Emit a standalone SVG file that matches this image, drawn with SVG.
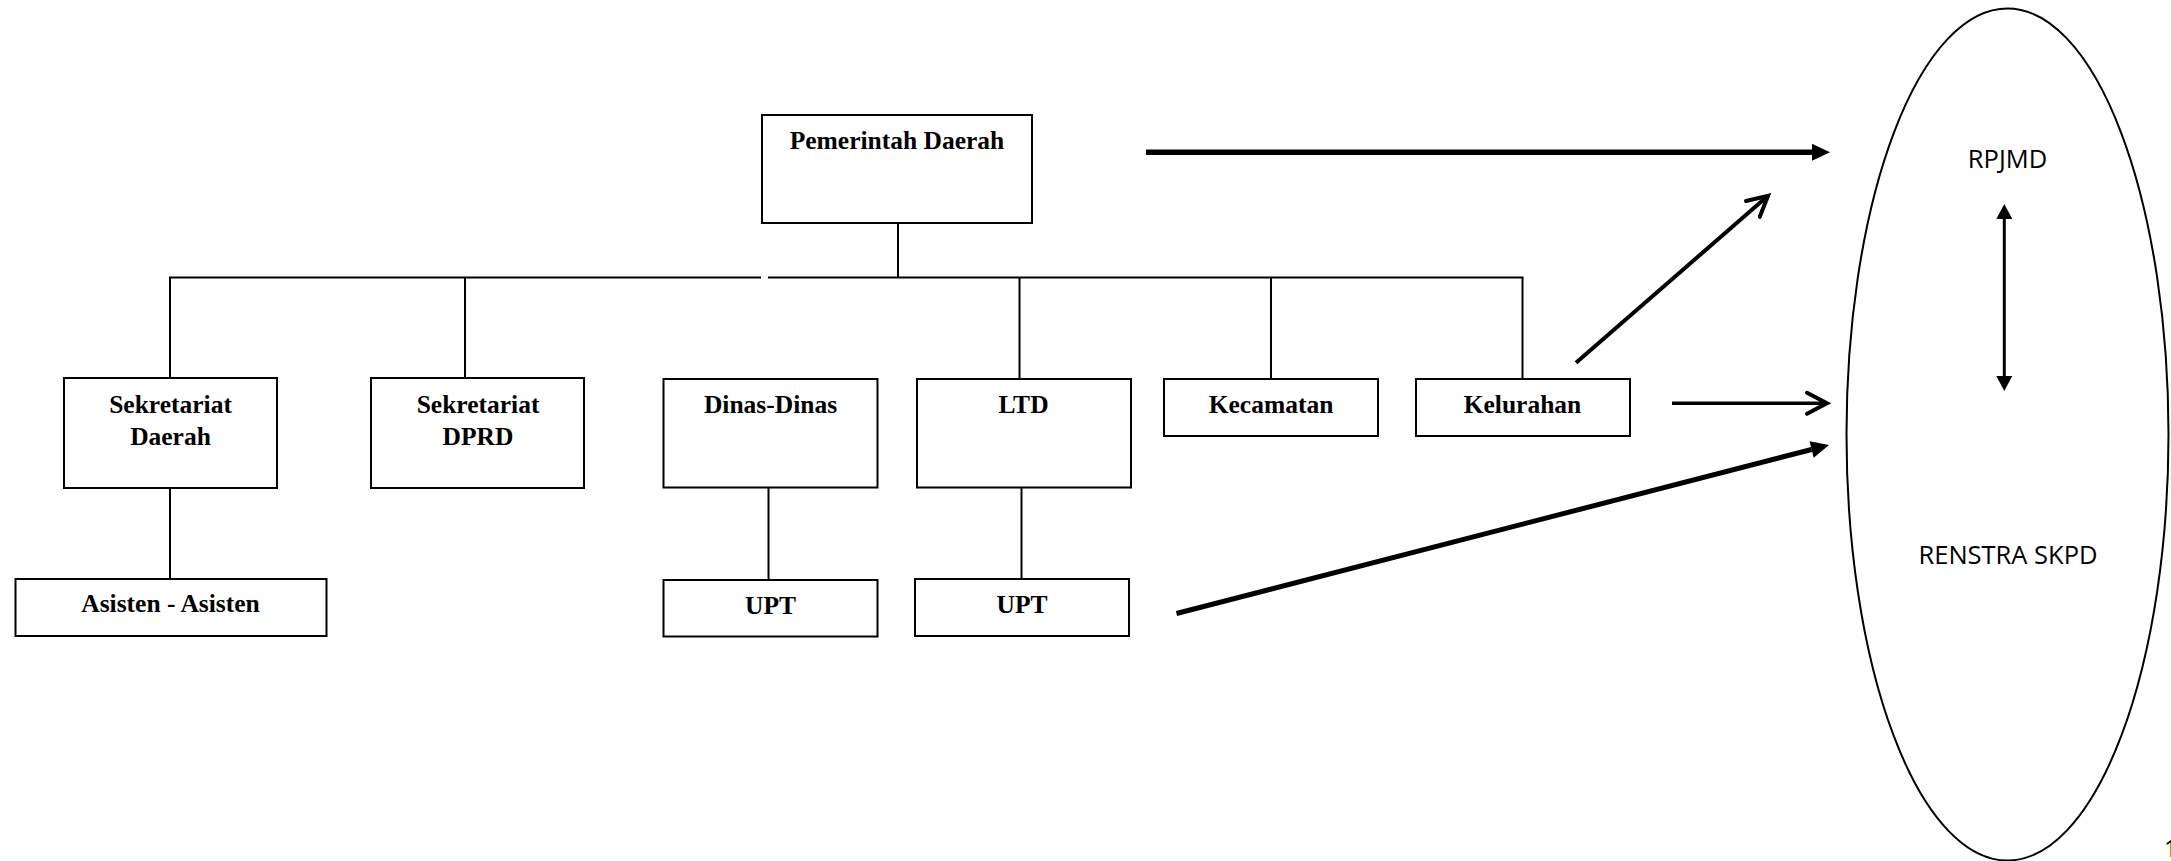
<svg xmlns="http://www.w3.org/2000/svg" width="2171" height="861" viewBox="0 0 2171 861">
  <style>
    .box { fill: #ffffff; stroke: #000000; stroke-width: 2; }
    .lbl { font-family: "Liberation Serif", "Times New Roman", serif; font-weight: bold; font-size: 25.5px; fill: #000000; text-anchor: middle; }
    .doc { font-family: "Open Sans", "Liberation Sans", sans-serif; font-size: 25.5px; fill: #000000; text-anchor: middle; }
    .tree { stroke: #000000; stroke-width: 2; fill: none; }
    .flow { stroke: #000000; fill: none; }
  </style>
  <defs>
    <!-- solid triangular head, drawn forward from the end of the line -->
    <marker id="solidHead" markerUnits="userSpaceOnUse" markerWidth="24" markerHeight="20" refX="0" refY="8.5" orient="auto" overflow="visible">
      <path d="M0,0 L18,8.5 L0,17 Z" fill="#000000"/>
    </marker>
    <marker id="smallHead" markerUnits="userSpaceOnUse" markerWidth="20" markerHeight="20" refX="0" refY="8" orient="auto-start-reverse" overflow="visible">
      <path d="M0,0 L15,8 L0,16 Z" fill="#000000"/>
    </marker>
    <!-- open "V" head -->
    <marker id="openHead" markerUnits="userSpaceOnUse" markerWidth="30" markerHeight="30" refX="0" refY="0" orient="auto" overflow="visible">
      <path d="M-20,-10.5 L0,0 L-20,10.5" fill="none" stroke="#000000" stroke-width="4" stroke-linecap="round" stroke-linejoin="miter"/>
    </marker>
  </defs>

  <!-- organisation tree connectors -->
  <g id="connectors">
    <line class="tree" x1="898" y1="223" x2="898" y2="277.5"/>
    <line class="tree" x1="169" y1="277.5" x2="761" y2="277.5"/>
    <line class="tree" x1="768" y1="277.5" x2="1523.5" y2="277.5"/>
    <line class="tree" x1="170" y1="277.5" x2="170" y2="378"/>
    <line class="tree" x1="465" y1="277.5" x2="465" y2="378"/>
    <line class="tree" x1="1019.5" y1="277.5" x2="1019.5" y2="379"/>
    <line class="tree" x1="1271" y1="277.5" x2="1271" y2="379"/>
    <line class="tree" x1="1522.5" y1="277.5" x2="1522.5" y2="379"/>
    <line class="tree" x1="170" y1="488" x2="170" y2="579"/>
    <line class="tree" x1="768.5" y1="487.5" x2="768.5" y2="580"/>
    <line class="tree" x1="1021.5" y1="487.5" x2="1021.5" y2="579"/>

    <!-- arrows into the planning documents -->
    <line class="flow" x1="1146" y1="152.3" x2="1812" y2="152.3" stroke-width="5.5" marker-end="url(#solidHead)"/>
    <line class="flow" x1="1576" y1="362.7" x2="1768" y2="195.8" stroke-width="4" marker-end="url(#openHead)"/>
    <line class="flow" x1="1672" y1="403.3" x2="1827" y2="403.3" stroke-width="3.5" marker-end="url(#openHead)"/>
    <line class="flow" x1="1176.5" y1="613.5" x2="1811.6" y2="449.5" stroke-width="5" marker-end="url(#solidHead)"/>
    <line class="flow" x1="2004.3" y1="219" x2="2004.3" y2="376" stroke-width="3" marker-start="url(#smallHead)" marker-end="url(#smallHead)"/>
  </g>

  <g id="pemerintah-daerah">
    <rect class="box" x="762" y="115" width="270" height="108"/>
    <text class="lbl" x="897" y="149">Pemerintah Daerah</text>
  </g>

  <g id="sekretariat-daerah">
    <rect class="box" x="64" y="378" width="213" height="110"/>
    <text class="lbl" x="170.5" y="413">Sekretariat</text>
    <text class="lbl" x="170.5" y="445">Daerah</text>
  </g>

  <g id="sekretariat-dprd">
    <rect class="box" x="371" y="378" width="213" height="110"/>
    <text class="lbl" x="478" y="413">Sekretariat</text>
    <text class="lbl" x="478" y="445">DPRD</text>
  </g>

  <g id="asisten">
    <rect class="box" x="15.5" y="579" width="311" height="57"/>
    <text class="lbl" x="170.5" y="612">Asisten - Asisten</text>
  </g>

  <g id="dinas-dinas">
    <rect class="box" x="663.5" y="379" width="214" height="108.5"/>
    <text class="lbl" x="770.5" y="413">Dinas-Dinas</text>
  </g>

  <g id="upt-dinas">
    <rect class="box" x="663.5" y="580" width="214" height="56.5"/>
    <text class="lbl" x="770.5" y="614">UPT</text>
  </g>

  <g id="ltd">
    <rect class="box" x="917" y="379" width="214" height="108.5"/>
    <text class="lbl" x="1023.5" y="413">LTD</text>
  </g>

  <g id="upt-ltd">
    <rect class="box" x="915" y="579" width="214" height="57"/>
    <text class="lbl" x="1022" y="613">UPT</text>
  </g>

  <g id="kecamatan">
    <rect class="box" x="1164" y="379" width="214" height="57"/>
    <text class="lbl" x="1271" y="413">Kecamatan</text>
  </g>

  <g id="kelurahan">
    <rect class="box" x="1416" y="379" width="214" height="57"/>
    <text class="lbl" x="1522.5" y="413">Kelurahan</text>
  </g>

  <g id="dokumen-perencanaan">
    <ellipse cx="2007.5" cy="434.5" rx="161" ry="426" fill="none" stroke="#000000" stroke-width="2"/>
    <text class="doc" x="2007.5" y="168">RPJMD</text>
    <text class="doc" x="2008" y="564">RENSTRA SKPD</text>
  </g>

  <!-- page number at the bottom-right corner -->
  <text x="2164" y="857" font-family="Open Sans, Liberation Sans, sans-serif" font-size="24" fill="#000000">1</text>
</svg>
